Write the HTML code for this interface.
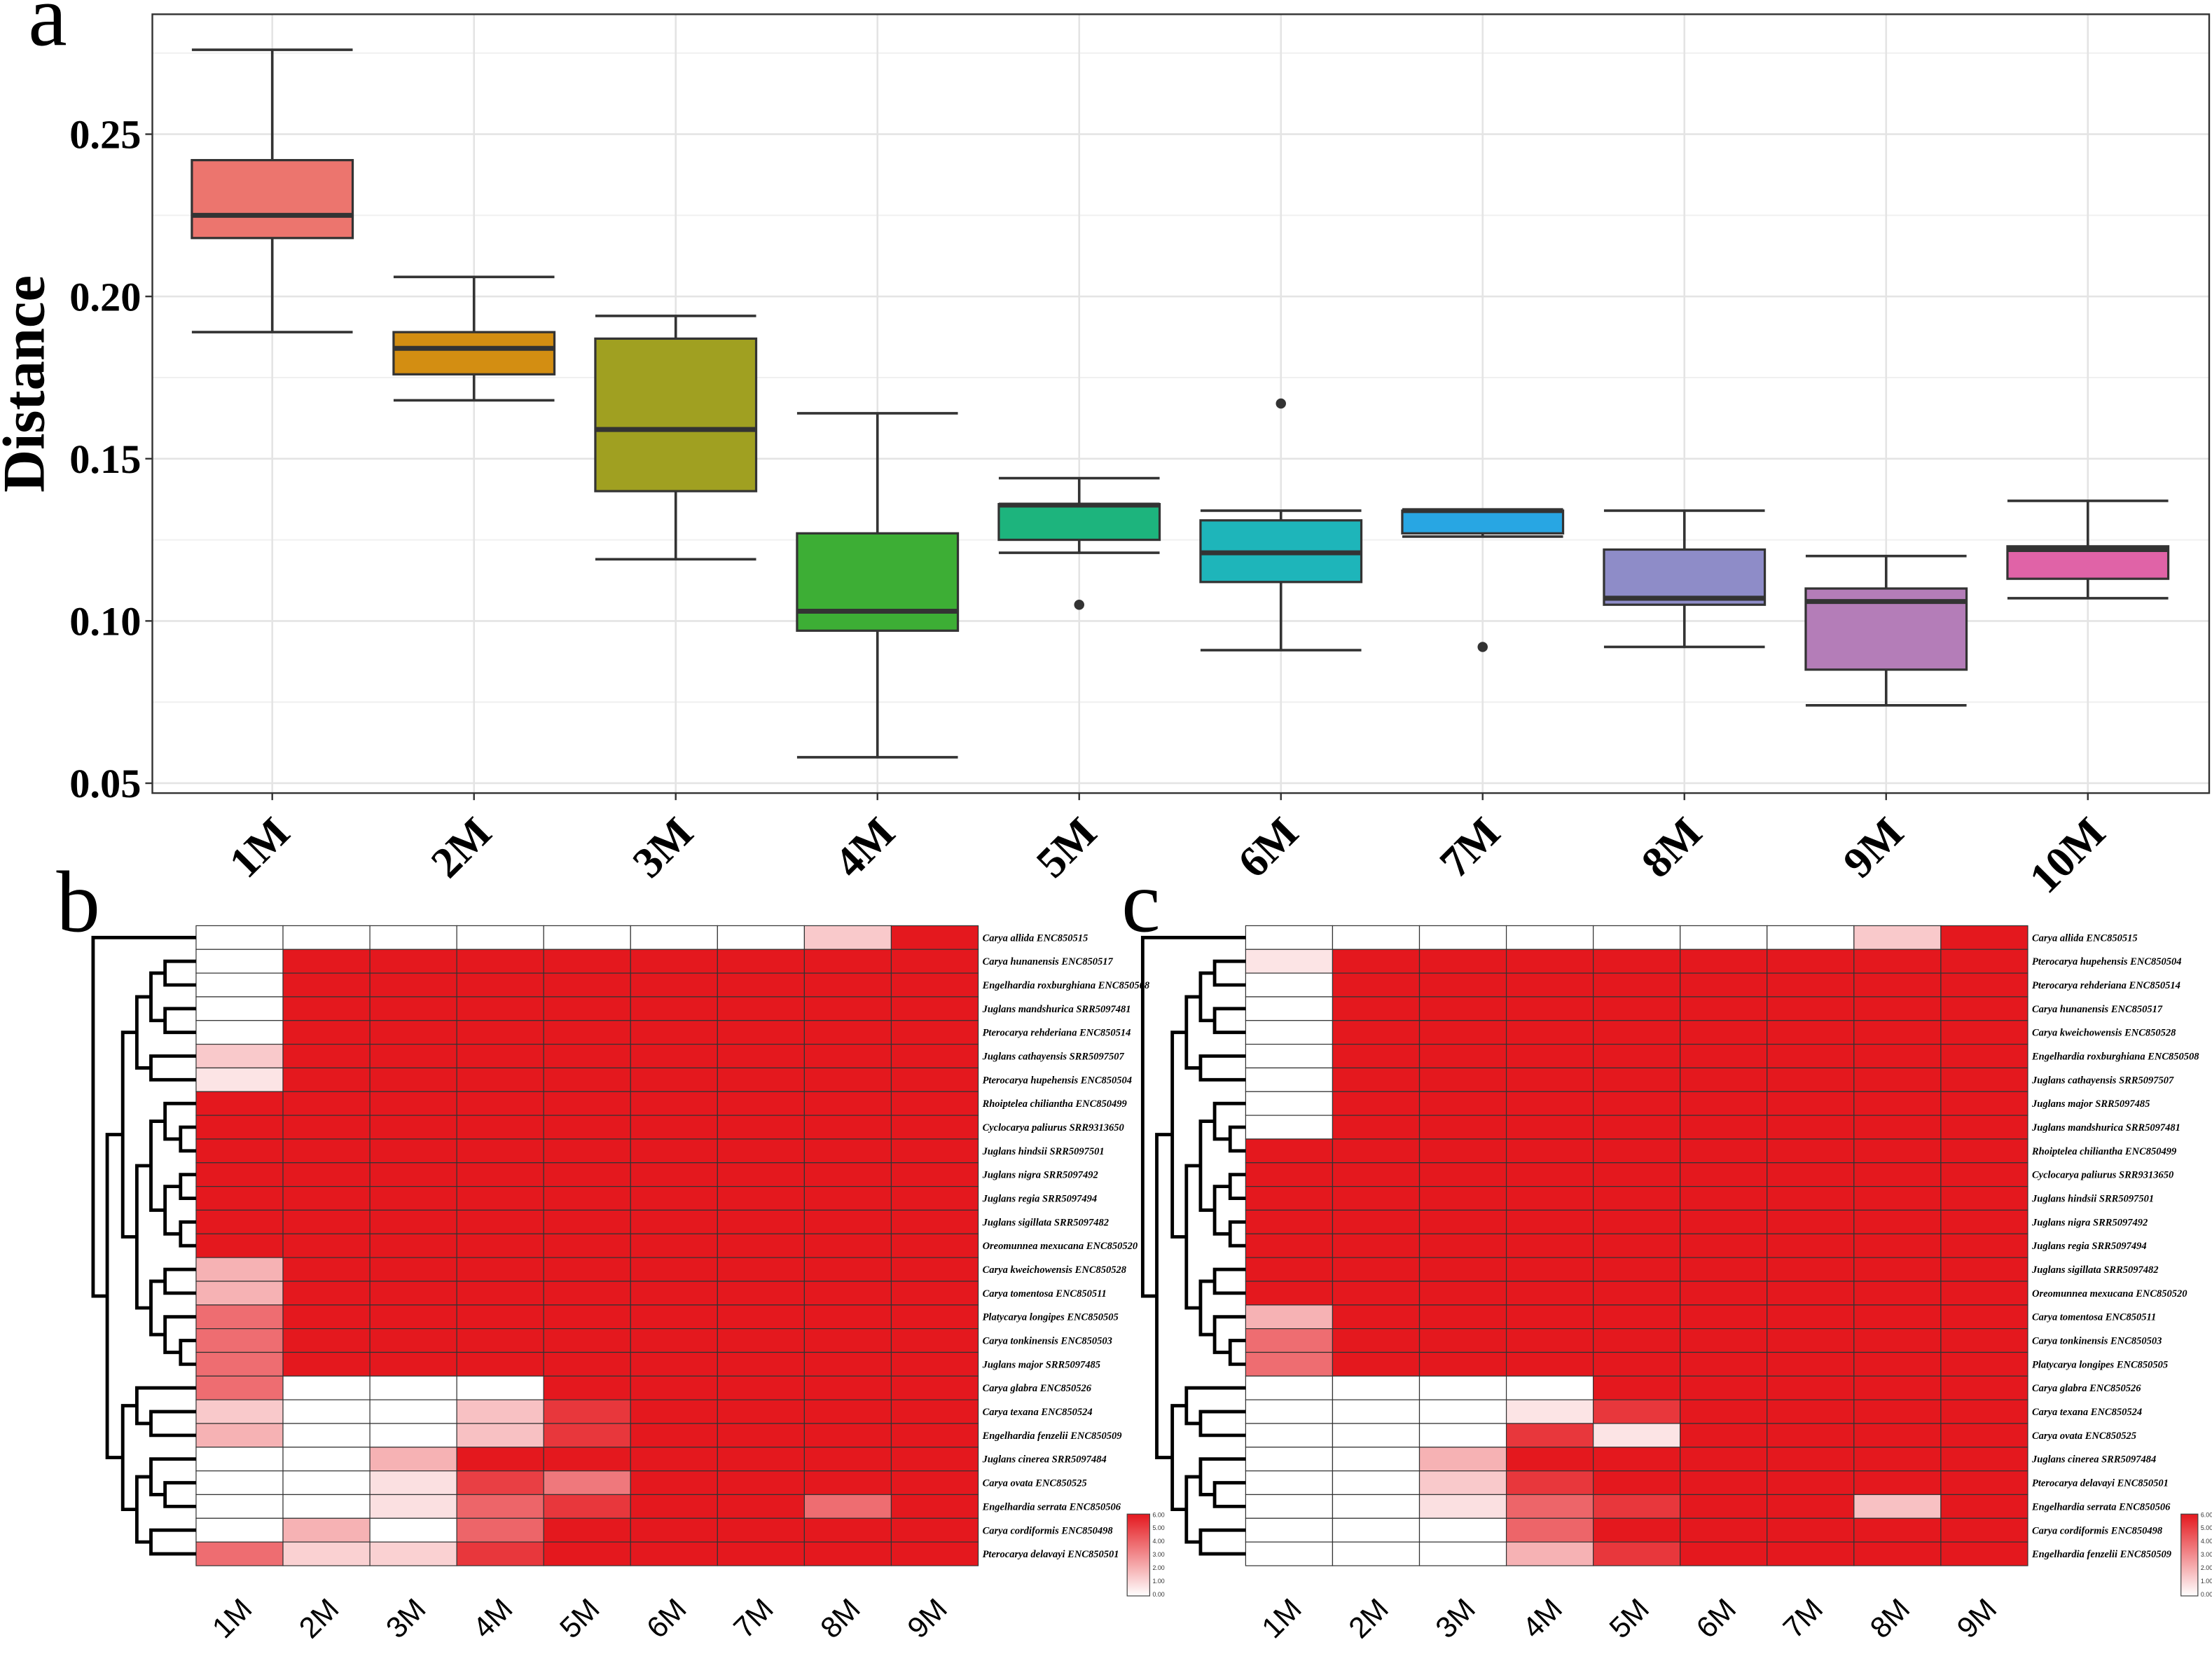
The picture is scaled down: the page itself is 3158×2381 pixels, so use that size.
<!DOCTYPE html>
<html><head><meta charset="utf-8"><style>
html,body{margin:0;padding:0;background:#fff;}
svg{display:block;}
</style></head><body>
<svg id="fig" xmlns="http://www.w3.org/2000/svg" width="3158" height="2381" viewBox="0 0 1568 1182">
<rect x="0" y="0" width="1568" height="1182" fill="#fff"/>
<g id="pa"></g>
<g id="pb"></g>
<g id="pc"></g>
</svg>
<script>
// ---------- Panel a data ----------
const boxCats = ["1M","2M","3M","4M","5M","6M","7M","8M","9M","10M"];
const boxLow  = [0.189,0.168,0.119,0.058,0.121,0.091,0.126,0.092,0.074,0.107];
const boxQ1   = [0.218,0.176,0.140,0.097,0.125,0.112,0.127,0.105,0.085,0.113];
const boxMed  = [0.225,0.184,0.159,0.103,0.1357,0.121,0.134,0.107,0.106,0.122];
const boxQ3   = [0.242,0.189,0.187,0.127,0.136,0.131,0.134,0.122,0.110,0.123];
const boxHigh = [0.276,0.206,0.194,0.164,0.144,0.134,0.134,0.134,0.120,0.137];
const outlierCat = [4,5,6];
const outlierVal = [0.105,0.167,0.092];
const boxColors = ["#EC756E","#D38E12","#A0A021","#3DAE35","#1DB47D","#1EB5BA","#28A6E3","#8E8CC8","#B47DB8","#E063A7"];
const yTicks = [0.05,0.10,0.15,0.20,0.25];
const yTickLabels = ["0.05","0.10","0.15","0.20","0.25"];

// ---------- Heatmap data ----------
const hmCols = ["1M","2M","3M","4M","5M","6M","7M","8M","9M"];
const rowsB = ["Carya allida ENC850515","Carya hunanensis ENC850517","Engelhardia roxburghiana ENC850508","Juglans mandshurica SRR5097481","Pterocarya rehderiana ENC850514","Juglans cathayensis SRR5097507","Pterocarya hupehensis ENC850504","Rhoiptelea chiliantha ENC850499","Cyclocarya paliurus SRR9313650","Juglans hindsii SRR5097501","Juglans nigra SRR5097492","Juglans regia SRR5097494","Juglans sigillata SRR5097482","Oreomunnea mexucana ENC850520","Carya kweichowensis ENC850528","Carya tomentosa ENC850511","Platycarya longipes ENC850505","Carya tonkinensis ENC850503","Juglans major SRR5097485","Carya glabra ENC850526","Carya texana ENC850524","Engelhardia fenzelii ENC850509","Juglans cinerea SRR5097484","Carya ovata ENC850525","Engelhardia serrata ENC850506","Carya cordiformis ENC850498","Pterocarya delavayi ENC850501"];
const valsB = [
[0,0,0,0,0,0,0,1.4,6],[0,6,6,6,6,6,6,6,6],[0,6,6,6,6,6,6,6,6],[0,6,6,6,6,6,6,6,6],[0,6,6,6,6,6,6,6,6],
[1.4,6,6,6,6,6,6,6,6],[0.7,6,6,6,6,6,6,6,6],
[6,6,6,6,6,6,6,6,6],[6,6,6,6,6,6,6,6,6],[6,6,6,6,6,6,6,6,6],[6,6,6,6,6,6,6,6,6],[6,6,6,6,6,6,6,6,6],[6,6,6,6,6,6,6,6,6],[6,6,6,6,6,6,6,6,6],
[2,6,6,6,6,6,6,6,6],[2,6,6,6,6,6,6,6,6],[3.8,6,6,6,6,6,6,6,6],[3.8,6,6,6,6,6,6,6,6],[3.8,6,6,6,6,6,6,6,6],
[3.8,0,0,0,6,6,6,6,6],[1.4,0,0,1.6,5.2,6,6,6,6],[2,0,0,1.6,5.2,6,6,6,6],[0,0,2,6,6,6,6,6,6],
[0,0,0.8,5,3.5,6,6,6,6],[0,0,0.8,4,5.2,6,6,3.8,6],[0,2,0,4,6,6,6,6,6],[3.8,1.2,1.2,5.2,6,6,6,6,6]];
const rowsC = ["Carya allida ENC850515","Pterocarya hupehensis ENC850504","Pterocarya rehderiana ENC850514","Carya hunanensis ENC850517","Carya kweichowensis ENC850528","Engelhardia roxburghiana ENC850508","Juglans cathayensis SRR5097507","Juglans major SRR5097485","Juglans mandshurica SRR5097481","Rhoiptelea chiliantha ENC850499","Cyclocarya paliurus SRR9313650","Juglans hindsii SRR5097501","Juglans nigra SRR5097492","Juglans regia SRR5097494","Juglans sigillata SRR5097482","Oreomunnea mexucana ENC850520","Carya tomentosa ENC850511","Carya tonkinensis ENC850503","Platycarya longipes ENC850505","Carya glabra ENC850526","Carya texana ENC850524","Carya ovata ENC850525","Juglans cinerea SRR5097484","Pterocarya delavayi ENC850501","Engelhardia serrata ENC850506","Carya cordiformis ENC850498","Engelhardia fenzelii ENC850509"];
const valsC = [
[0,0,0,0,0,0,0,1.4,6],[0.7,6,6,6,6,6,6,6,6],[0,6,6,6,6,6,6,6,6],[0,6,6,6,6,6,6,6,6],[0,6,6,6,6,6,6,6,6],[0,6,6,6,6,6,6,6,6],[0,6,6,6,6,6,6,6,6],[0,6,6,6,6,6,6,6,6],
[0,6,6,6,6,6,6,6,6],
[6,6,6,6,6,6,6,6,6],[6,6,6,6,6,6,6,6,6],[6,6,6,6,6,6,6,6,6],[6,6,6,6,6,6,6,6,6],[6,6,6,6,6,6,6,6,6],[6,6,6,6,6,6,6,6,6],[6,6,6,6,6,6,6,6,6],
[2,6,6,6,6,6,6,6,6],[3.8,6,6,6,6,6,6,6,6],[3.8,6,6,6,6,6,6,6,6],
[0,0,0,0,6,6,6,6,6],[0,0,0,0.7,5.2,6,6,6,6],[0,0,0,5.2,0.7,6,6,6,6],[0,0,2,6,6,6,6,6,6],
[0,0,1.4,5.2,6,6,6,6,6],[0,0,0.8,4,5.2,6,6,1.6,6],[0,0,0,4,6,6,6,6,6],[0,0,0,2,5.2,6,6,6,6]];

const NS="http://www.w3.org/2000/svg";
function mk(parent,tag,attrs){const e=document.createElementNS(NS,tag);for(const k in attrs)e.setAttribute(k,attrs[k]);parent.appendChild(e);return e;}

// ---------- Panel a ----------
const pa=document.getElementById('pa');
const PX0=108,PX1=1566,PY0=10,PY1=562;
function yv(v){return 555-(v-0.05)*2300;}
function xc(i){return 193+i*143;}
const plotBg=mk(pa,'rect',{x:PX0,y:PY0,width:PX1-PX0,height:PY1-PY0,fill:'#fff'});


for(let v=0.075;v<0.28;v+=0.05){mk(pa,'line',{x1:PX0,x2:PX1,y1:yv(v),y2:yv(v),stroke:'#f0f0f0','stroke-width':1});}
yTicks.forEach(v=>{mk(pa,'line',{x1:PX0,x2:PX1,y1:yv(v),y2:yv(v),stroke:'#e4e4e4','stroke-width':1.3});});
boxCats.forEach((c,i)=>{mk(pa,'line',{x1:xc(i),x2:xc(i),y1:PY0,y2:PY1,stroke:'#e4e4e4','stroke-width':1.3});});
const frame=mk(pa,'rect',{x:PX0,y:PY0,width:PX1-PX0,height:PY1-PY0,fill:'none',stroke:'#333','stroke-width':1.2});


yTicks.forEach((v,i)=>{
  mk(pa,'line',{x1:PX0-5,x2:PX0,y1:yv(v),y2:yv(v),stroke:'#333','stroke-width':1.2});
  const t=mk(pa,'text',{x:PX0-8,y:yv(v)+10,'text-anchor':'end','font-family':'"Liberation Serif",serif','font-weight':'bold','font-size':29,fill:'#000'});
  t.textContent=yTickLabels[i];
  
  
});
const yt=mk(pa,'text',{x:0,y:0,transform:'translate(31,272) rotate(-90)','text-anchor':'middle','font-family':'"Liberation Serif",serif','font-weight':'bold','font-size':42,fill:'#000'});
yt.textContent='Distance';


const la=mk(pa,'text',{x:20,y:32,'font-family':'"Liberation Serif",serif','font-size':62,fill:'#000'});
la.textContent='a';


const BW=114;
boxCats.forEach((c,i)=>{
  const g=mk(pa,'g',{});
  
  
  const x=xc(i);
  mk(g,'line',{x1:x,x2:x,y1:yv(boxHigh[i]),y2:yv(boxQ3[i]),stroke:'#333','stroke-width':1.8});
  mk(g,'line',{x1:x,x2:x,y1:yv(boxQ1[i]),y2:yv(boxLow[i]),stroke:'#333','stroke-width':1.8});
  mk(g,'line',{x1:x-BW/2,x2:x+BW/2,y1:yv(boxHigh[i]),y2:yv(boxHigh[i]),stroke:'#333','stroke-width':1.8});
  mk(g,'line',{x1:x-BW/2,x2:x+BW/2,y1:yv(boxLow[i]),y2:yv(boxLow[i]),stroke:'#333','stroke-width':1.8});
  mk(g,'rect',{x:x-BW/2,y:yv(boxQ3[i]),width:BW,height:Math.max(1,yv(boxQ1[i])-yv(boxQ3[i])),fill:boxColors[i],stroke:'#333','stroke-width':1.6});
  mk(g,'line',{x1:x-BW/2,x2:x+BW/2,y1:yv(boxMed[i]),y2:yv(boxMed[i]),stroke:'#333','stroke-width':3.5});
  mk(pa,'line',{x1:x,x2:x,y1:PY1,y2:PY1+5,stroke:'#333','stroke-width':1.2});
  const t=mk(pa,'text',{x:0,y:0,transform:`translate(${x+14},${PY1+30}) rotate(-45)`,'text-anchor':'end','font-family':'"Liberation Serif",serif','font-weight':'bold','font-size':31,fill:'#000'});
  t.textContent=c;
  
  
});
outlierCat.forEach((ci,k)=>{
  const o=mk(pa,'circle',{cx:xc(ci),cy:yv(outlierVal[k]),r:3.6,fill:'#333'});
  
  
});

// ---------- Heatmaps ----------
function col(v){const t=Math.max(0,Math.min(1,v/6));const r=Math.round(255+(228-255)*t),g=Math.round(255+(24-255)*t),b=Math.round(255+(30-255)*t);return `rgb(${r},${g},${b})`;}
const HY0=656,RH=16.8,CW=61.6;
const treeB=[66,0,[76,[87,[97,[107,[117,1,2],[117,3,4]],[107,5,6]],[97,[107,[117,7,[128,8,9]],[117,[128,10,11],[128,12,13]]],[107,[117,14,15],[117,16,[128,17,18]]]]],[87,[97,19,[107,20,21]],[97,[107,22,[117,23,24]],[107,25,26]]]]];
function drawHeatmap(g,x0,rows,vals,tree,cbX,cbW,letter,letterX){
  const grid=mk(g,'g',{});
  
  
  rows.forEach((r,i)=>{
    hmCols.forEach((c,j)=>{
      const cell=mk(grid,'rect',{x:x0+j*CW,y:HY0+i*RH,width:CW,height:RH,fill:col(vals[i][j]),stroke:'#333','stroke-width':0.6});
      
      
    });
    const t=mk(g,'text',{x:x0+9*CW+3,y:HY0+i*RH+RH/2+2.5,'font-family':'"Liberation Serif",serif','font-style':'italic','font-weight':'bold','font-size':7.2,fill:'#000'});
    t.textContent=r;
    
    
  });
  hmCols.forEach((c,j)=>{
    const cx=x0+j*CW+CW/2;
    const t=mk(g,'text',{x:0,y:0,transform:`translate(${cx+10},${HY0+27*RH+32}) rotate(-45)`,'text-anchor':'end','font-family':'"Liberation Sans",sans-serif','font-size':21,fill:'#000'});
    t.textContent=c;
    
    
  });
  const dg=mk(g,'g',{});
  
  
  const off=x0-139;
  function walk(n){
    if(typeof n==='number') return {y:HY0+n*RH+RH/2,x:x0};
    const a=walk(n[1]),b=walk(n[2]);const x=n[0]+off;
    mk(dg,'path',{d:`M${a.x},${a.y}H${x}V${b.y}H${b.x}`,fill:'none',stroke:'#000','stroke-width':2.4});
    return {y:(a.y+b.y)/2,x:x};
  }
  walk(tree);
  const defs=mk(g,'defs',{});
  const lg=mk(defs,'linearGradient',{id:'grad'+letter,x1:0,y1:1,x2:0,y2:0});
  mk(lg,'stop',{offset:0,'stop-color':'#fff'});
  mk(lg,'stop',{offset:1,'stop-color':'#e4181e'});
  const cb=mk(g,'rect',{x:cbX,y:1073,width:cbW,height:58,fill:`url(#grad${letter})`,stroke:'#444','stroke-width':0.6});
  
  
  ["6.00","5.00","4.00","3.00","2.00","1.00","0.00"].forEach((s,k)=>{
    const t=mk(g,'text',{x:cbX+cbW+2,y:1075+k*9.4,'font-family':'"Liberation Sans",sans-serif','font-size':4.4,fill:'#333'});
    t.textContent=s;
    
    
  });
  const L=mk(g,'text',{x:letterX,y:660,'font-family':'"Liberation Serif",serif','font-size':62,fill:'#000'});
  L.textContent=letter;
  
  
}
drawHeatmap(document.getElementById('pb'),139,rowsB,valsB,treeB,799,16,'b',40);
drawHeatmap(document.getElementById('pc'),883,rowsC,valsC,treeB,1546,12,'c',795);
</script>
</body></html>
